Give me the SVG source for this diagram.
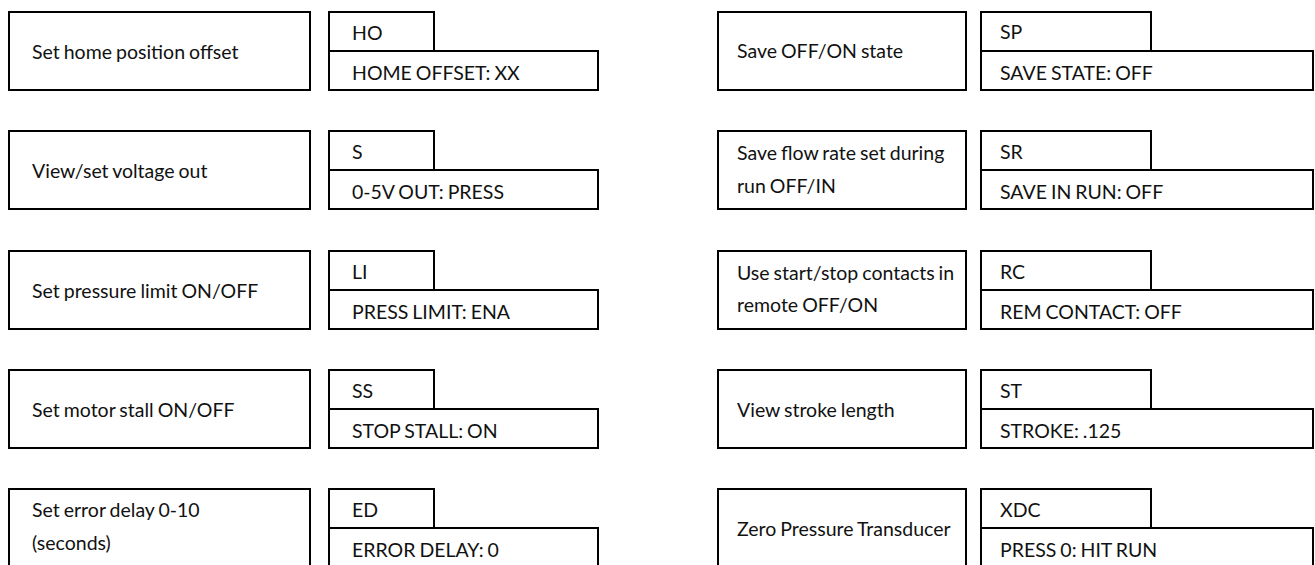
<svg xmlns="http://www.w3.org/2000/svg" width="1315" height="565" viewBox="0 0 1315 565">
<style>
rect{fill:#fff;stroke:#000;stroke-width:2}
text{font-family:Lato,"Noto Sans","Liberation Sans",sans-serif;font-size:19.5px;word-spacing:-1px;fill:#111}
</style>
<rect x="0" y="0" width="1315" height="565" style="stroke:none"/>
<g id="ho-desc"><rect x="9" y="12" width="301" height="78"/><text x="32" y="59">Set home position offset</text></g>
<g id="ho-cmd"><rect x="329" y="12" width="105" height="39"/><rect x="329" y="51" width="269" height="39"/><text x="352" y="40">HO</text><text x="352" y="80">HOME OFFSET: XX</text></g>
<g id="s-desc"><rect x="9" y="131" width="301" height="78"/><text x="32" y="178">View/set voltage out</text></g>
<g id="s-cmd"><rect x="329" y="131" width="105" height="39"/><rect x="329" y="170" width="269" height="39"/><text x="352" y="159">S</text><text x="352" y="199">0-5V OUT: PRESS</text></g>
<g id="li-desc"><rect x="9" y="251" width="301" height="78"/><text x="32" y="298">Set pressure limit ON/OFF</text></g>
<g id="li-cmd"><rect x="329" y="251" width="105" height="39"/><rect x="329" y="290" width="269" height="39"/><text x="352" y="279">LI</text><text x="352" y="319">PRESS LIMIT: ENA</text></g>
<g id="ss-desc"><rect x="9" y="370" width="301" height="78"/><text x="32" y="417">Set motor stall ON/OFF</text></g>
<g id="ss-cmd"><rect x="329" y="370" width="105" height="39"/><rect x="329" y="409" width="269" height="39"/><text x="352" y="398">SS</text><text x="352" y="438">STOP STALL: ON</text></g>
<g id="ed-desc"><rect x="9" y="489" width="301" height="78"/><text x="32" y="517">Set error delay 0-10</text><text x="32" y="550">(seconds)</text></g>
<g id="ed-cmd"><rect x="329" y="489" width="105" height="39"/><rect x="329" y="528" width="269" height="39"/><text x="352" y="517">ED</text><text x="352" y="557">ERROR DELAY: 0</text></g>
<g id="sp-desc"><rect x="718" y="12" width="248" height="78"/><text x="737" y="58">Save OFF/ON state</text></g>
<g id="sp-cmd"><rect x="981" y="12" width="170" height="39"/><rect x="981" y="51" width="332" height="39"/><text x="1000" y="39">SP</text><text x="1000" y="80">SAVE STATE: OFF</text></g>
<g id="sr-desc"><rect x="718" y="131" width="248" height="78"/><text x="737" y="160">Save flow rate set during</text><text x="737" y="193">run OFF/IN</text></g>
<g id="sr-cmd"><rect x="981" y="131" width="170" height="39"/><rect x="981" y="170" width="332" height="39"/><text x="1000" y="159">SR</text><text x="1000" y="199">SAVE IN RUN: OFF</text></g>
<g id="rc-desc"><rect x="718" y="251" width="248" height="78"/><text x="737" y="280">Use start/stop contacts in</text><text x="737" y="312">remote OFF/ON</text></g>
<g id="rc-cmd"><rect x="981" y="251" width="170" height="39"/><rect x="981" y="290" width="332" height="39"/><text x="1000" y="279">RC</text><text x="1000" y="319">REM CONTACT: OFF</text></g>
<g id="st-desc"><rect x="718" y="370" width="248" height="78"/><text x="737" y="417">View stroke length</text></g>
<g id="st-cmd"><rect x="981" y="370" width="170" height="39"/><rect x="981" y="409" width="332" height="39"/><text x="1000" y="398">ST</text><text x="1000" y="438">STROKE: .125</text></g>
<g id="xdc-desc"><rect x="718" y="489" width="248" height="78"/><text x="737" y="536">Zero Pressure Transducer</text></g>
<g id="xdc-cmd"><rect x="981" y="489" width="170" height="39"/><rect x="981" y="528" width="332" height="39"/><text x="1000" y="517">XDC</text><text x="1000" y="557">PRESS 0: HIT RUN</text></g>
<g id="connectors"/>
</svg>
